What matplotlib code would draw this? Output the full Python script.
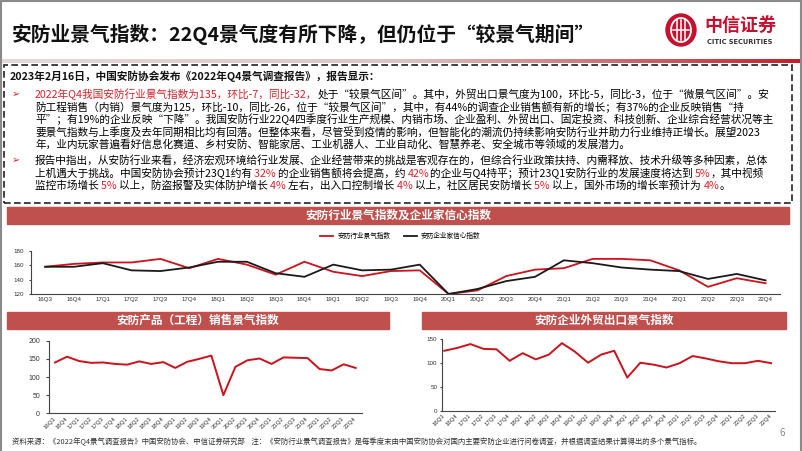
import matplotlib
matplotlib.use('Agg')
import matplotlib.pyplot as plt
import numpy as np
from matplotlib.patches import Rectangle, Ellipse
from matplotlib.lines import Line2D
from matplotlib.colors import LinearSegmentedColormap

plt.rcParams['font.family'] = ['Noto Sans CJK SC', 'DejaVu Sans']

#%% data
quarters = ['16Q3', '16Q4', '17Q1', '17Q2', '17Q3', '17Q4', '18Q1', '18Q2', '18Q3',
            '18Q4', '19Q1', '19Q2', '19Q3', '19Q4', '20Q1', '20Q2', '20Q3', '20Q4',
            '21Q1', '21Q2', '21Q3', '21Q4', '22Q1', '22Q2', '22Q3', '22Q4']
prosperity = [158, 162, 164, 164, 169, 156, 169, 161, 147, 165, 151, 145, 152,
              153, 120, 125, 145, 154, 156, 169, 169, 167, 153, 130, 142, 135]
confidence = [158, 158, 163, 153, 152, 157, 165, 165, 149, 144, 161, 153, 154,
              161, 120, 127, 138, 144, 167, 163, 157, 154, 152, 141, 148, 139]
sales = [140, 156, 144, 139, 140, 136, 134, 143, 136, 141, 125, 142, 150,
         159, 50, 128, 146, 151, 136, 154, 153, 152, 122, 118, 135, 125]
export = [126, 132, 140, 130, 129, 105, 121, 108, 118, 142, 124, 101, 118,
          126, 70, 101, 97, 91, 100, 115, 110, 104, 100, 100, 105, 100]

title = '安防业景气指数：22Q4景气度有所下降，但仍位于“较景气期间”'
header = '2023年2月16日，中国安防协会发布《2022年Q4景气调查报告》，报告显示：'
RED_T = '#e0202a'
para1 = [
    [('2022年Q4我国安防行业景气指数为135，环比-7，同比-32，', RED_T),
     ('处于“较景气区间”。其中，外贸出口景气度为100，环比-5，同比-3，位于“微景气区间”。安', 'k')],
    [('防工程销售（内销）景气度为125，环比-10，同比-26，位于“较景气区间”，其中，有44%的调查企业销售额有新的增长；有37%的企业反映销售“持', 'k')],
    [('平”；有19%的企业反映“下降”。我国安防行业22Q4四季度行业生产规模、内销市场、企业盈利、外贸出口、固定投资、科技创新、企业综合经营状况等主', 'k')],
    [('要景气指数与上季度及去年同期相比均有回落。但整体来看，尽管受到疫情的影响，但智能化的潮流仍持续影响安防行业并助力行业维持正增长。展望2023', 'k')],
    [('年，业内玩家普遍看好信息化赛道、乡村安防、智能家居、工业机器人、工业自动化、智慧养老、安全城市等领域的发展潜力。', 'k')],
]
para2 = [
    [('报告中指出，从安防行业来看，经济宏观环境给行业发展、企业经营带来的挑战是客观存在的，但综合行业政策扶持、内需释放、技术升级等多种因素，总体', 'k')],
    [('上机遇大于挑战。中国安防协会预计23Q1约有 ', 'k'), ('32% ', RED_T),
     ('的企业销售额将会提高，约 ', 'k'), ('42%', RED_T),
     ('的企业与Q4持平；预计23Q1安防行业的发展速度将达到 ', 'k'), ('5%', RED_T), ('，其中视频', 'k')],
    [('监控市场增长 ', 'k'), ('5% ', RED_T), ('以上，防盗报警及实体防护增长 ', 'k'), ('4% ', RED_T),
     ('左右，出入口控制增长 ', 'k'), ('4% ', RED_T), ('以上，社区居民安防增长 ', 'k'), ('5% ', RED_T),
     ('以上，国外市场的增长率预计为 ', 'k'), ('4%', RED_T), ('。', 'k')],
]
footer = ('资料来源：《2022年Q4景气调查报告》中国安防协会、中信证券研究部    '
          '注：《安防行业景气调查报告》是每季度末由中国安防协会对国内主要安防企业进行问卷调查，'
          '并根据调查结果计算得出的多个景气指标。')

#%% figure in pixel units
W, H = 802, 451
fig = plt.figure(figsize=(W / 100, H / 100), dpi=100)
fig.patch.set_facecolor('white')


def fx(x):
    return x / W


def fy(y):
    return 1 - y / H


def box_axes(l, t, r, b):
    return fig.add_axes([fx(l), fy(b), (r - l) / W, (b - t) / H])


r = fig.canvas.get_renderer()


def advance(s, **kw):
    a = fig.text(0, 0, '|' + s + '|', **kw)
    b = fig.text(0, 0, '||', **kw)
    w = a.get_window_extent(r).width - b.get_window_extent(r).width
    a.remove()
    b.remove()
    return w


def rich_line(x, y, parts, **kw):
    for s, c in parts:
        fig.text(fx(x), fy(y), s, color=c, va='baseline', **kw)
        x += advance(s, **kw)


# slide frame
gray = '#8a8a8a'
fig.add_artist(Line2D([0, 1], [fy(0.5), fy(0.5)], color=gray, lw=1.5, transform=fig.transFigure))
fig.add_artist(Line2D([fx(1), fx(1)], [0, 1], color=gray, lw=1.5, transform=fig.transFigure))
fig.add_artist(Line2D([fx(801), fx(801)], [0, 1], color=gray, lw=1.5, transform=fig.transFigure))

# title + logo
fig.text(fx(12), fy(34), title, fontsize=14.2, weight='bold', color='#111111', va='center')
logo_red = '#c8102e'
fig.add_artist(Ellipse((fx(681), fy(30)), 30 / W, 32 / H, color=logo_red, transform=fig.transFigure))
fig.add_artist(Ellipse((fx(681), fy(30)), 20 / W, 24 / H, fill=False, ec='white', lw=1.3,
                       transform=fig.transFigure))
for dx in (-4, 0, 4):
    fig.add_artist(Line2D([fx(681 + dx)] * 2, [fy(20), fy(40)], color='white', lw=1.1,
                          transform=fig.transFigure))
fig.add_artist(Line2D([fx(673), fx(689)], [fy(30), fy(30)], color='white', lw=1.1,
                      transform=fig.transFigure))
fig.text(fx(740), fy(25), '中信证券', fontsize=13, weight='bold', color=logo_red, ha='center', va='center')
fig.text(fx(740), fy(42), 'CITIC SECURITIES', fontsize=4.8, weight='bold', color='#333333',
         ha='center', va='center', family='DejaVu Sans')

# gradient rule under the title
gax = fig.add_axes([0, fy(63), 1, 4 / H])
cmap = LinearSegmentedColormap.from_list('g', ['#e4dada', '#dcc4c4', '#c0202a'])
gax.imshow(np.linspace(0, 1, 256)[None, :], aspect='auto', cmap=cmap)
gax.axis('off')

# dashed text box
fig.add_artist(Rectangle((fx(4), fy(203)), 788 / W, 138 / H, fill=False, ec='#222222', lw=1.2,
                         ls=(0, (4, 2)), transform=fig.transFigure))
txt = dict(fontsize=7.7)
fig.text(fx(10), fy(75.7) - 4 / H, header, fontsize=7.7, weight='bold', color='#111111', va='baseline')
ys1 = [94, 106.7, 119.3, 131.7, 144.3]
ys2 = [160, 172.7, 185]
for ys, para in ((ys1, para1), (ys2, para2)):
    fig.text(fx(12), fy(ys[0]), '➢', color=RED_T, fontsize=7, va='center')
    for y, parts in zip(ys, para):
        rich_line(35, y + 4, parts, **txt)

# section banners
BAN = '#c0504d'
banners = [(7.3, 206.7, 789.3, 224, '安防行业景气指数及企业家信心指数'),
           (7.3, 311.7, 389, 329.3, '安防产品（工程）销售景气指数'),
           (421.7, 311.7, 785.7, 329.3, '安防企业外贸出口景气指数')]
for l, t, rr, b, s in banners:
    fig.add_artist(Rectangle((fx(l), fy(b)), (rr - l) / W, (b - t) / H, color=BAN,
                             transform=fig.transFigure))
    fig.text(fx((l + rr) / 2), fy((t + b) / 2), s, color='white', fontsize=8.4, weight='bold',
             ha='center', va='center')

LINE_RED = '#d0101a'
x = np.arange(len(quarters))


def style(ax, c='#444444'):
    for sp in ('top', 'right'):
        ax.spines[sp].set_visible(False)
    for sp in ('left', 'bottom'):
        ax.spines[sp].set_color(c)
        ax.spines[sp].set_linewidth(0.8)
    ax.set_facecolor('none')


# top chart
ax1 = box_axes(30.7, 251, 780, 294)
ax1.plot(x, prosperity, color=LINE_RED, lw=1.3, label='安防行业景气指数', clip_on=False)
ax1.plot(x, confidence, color='#1a1a1a', lw=1.3, label='安防企业家信心指数', clip_on=False)
ax1.set_xlim(-0.5, 25.5)
ax1.set_ylim(120, 180)
ax1.set_yticks([120, 140, 160, 180])
ax1.set_xticks(x)
ax1.set_xticklabels(quarters)
style(ax1)
ax1.tick_params(axis='x', length=0, pad=2.5, labelsize=4.4, labelcolor='#333333', labelfontfamily='Liberation Sans')
ax1.tick_params(axis='y', length=1.5, pad=3.5, labelsize=4.5, labelcolor='#333333', color='#444444',
                labelfontfamily='Liberation Sans')
ax1.legend(ncol=2, loc='center left', bbox_to_anchor=(fx(320), fy(236)), bbox_transform=fig.transFigure,
           frameon=False, fontsize=4.8, handlelength=2, handletextpad=0.6, columnspacing=2,
           borderpad=0, borderaxespad=0)

# bottom left chart
ax2 = box_axes(49, 340.7, 361.7, 413.3)
ax2.plot(x, sales, color=LINE_RED, lw=1.4, clip_on=False)
ax2.set_xlim(-0.5, 25.5)
ax2.set_ylim(0, 200)
ax2.set_yticks([0, 50, 100, 150, 200])
ax2.set_xticks(x)
ax2.set_xticklabels(quarters, rotation=45, ha='right', va='center', rotation_mode='anchor')
style(ax2)
ax2.tick_params(axis='x', length=0, pad=3, labelsize=4.3, labelcolor='#333333', labelfontfamily='Liberation Sans')
ax2.tick_params(axis='y', length=2, pad=4.5, labelsize=5, labelcolor='#333333', color='#444444',
                labelfontfamily='Liberation Sans')

# bottom right chart
ax3 = box_axes(442.3, 339.3, 775, 411)
ax3.plot(x, export, color=LINE_RED, lw=1.4, clip_on=False)
ax3.set_xlim(-0.15, 25.3)
ax3.set_ylim(0, 150)
ax3.set_yticks([0, 50, 100, 150])
ax3.set_xticks(x)
ax3.set_xticklabels(quarters, rotation=45, ha='right', va='center', rotation_mode='anchor')
style(ax3)
ax3.tick_params(axis='x', length=0, pad=3, labelsize=4.3, labelcolor='#333333', labelfontfamily='Liberation Sans')
ax3.tick_params(axis='y', length=1.5, pad=2, labelsize=4.5, labelcolor='#333333', color='#444444',
                labelfontfamily='Liberation Sans')

# footer
fig.text(fx(12), fy(442), footer, fontsize=5.35, color='#333333', va='center')
fig.text(fx(779), fy(433), '6', fontsize=7, color='#888888', va='center')

fig.savefig('out.png', dpi=100)
